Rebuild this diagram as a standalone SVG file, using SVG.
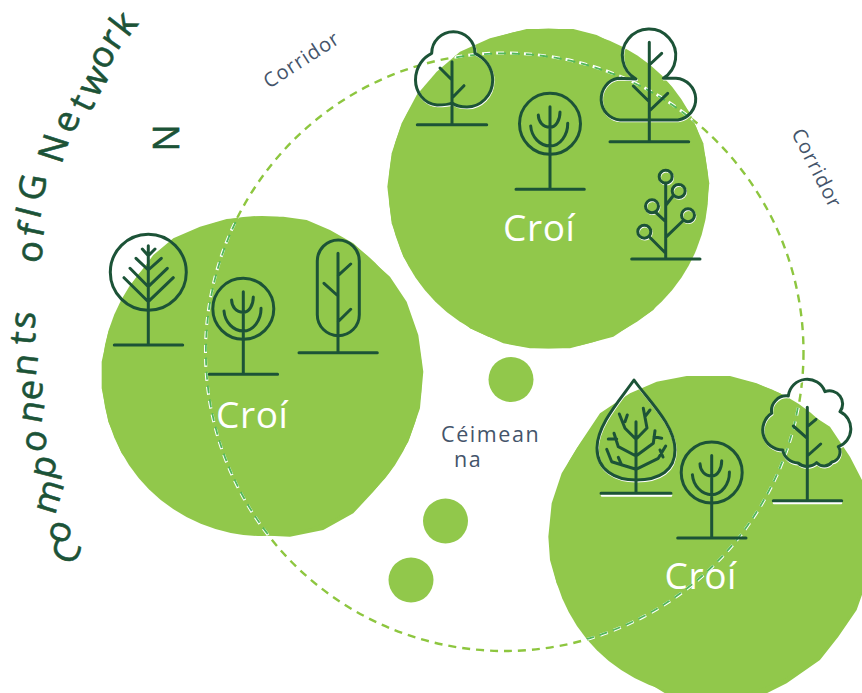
<svg xmlns="http://www.w3.org/2000/svg" xmlns:xlink="http://www.w3.org/1999/xlink" width="862" height="693" viewBox="0 0 862 693">
<style>
.blob{fill:#91c84b}
.t{fill:none;stroke:#1c5337;stroke-width:3;stroke-linecap:round;stroke-linejoin:round}
.s{fill:none;stroke:#fff;stroke-width:2.6;stroke-linecap:round;stroke-linejoin:round}
.title{font-family:"Open Sans",sans-serif;font-size:36px;fill:#1c5337;stroke:#1c5337;stroke-width:.6px;text-anchor:middle}
.croi{font-family:"Open Sans",sans-serif;font-size:37px;fill:#fff;letter-spacing:.6px}
.lab{font-family:"Open Sans",sans-serif;font-size:21.500px;fill:#44546a;letter-spacing:1.600px}
.cor{font-family:"Open Sans",sans-serif;font-size:20px;fill:#44546a;letter-spacing:1px}
.dash{fill:none;stroke-width:2.4;stroke-dasharray:8 6}
</style>
<defs>
<polygon id="p-top" transform="translate(380 20) scale(.3333)" points="240,95 330,55 440,27 580,27 650,45 720,80 800,130 870,195 930,280 970,370 988,490 975,600 940,700 880,790 820,870 700,950 570,985 450,985 370,970 270,925 190,860 120,790 70,710 35,610 22,500 35,400 65,310 110,225 170,155"/>
<polygon id="p-left" transform="translate(90 205) scale(.3333)" points="250,100 330,65 410,42 490,35 580,35 650,45 720,75 790,115 850,170 900,215 950,290 985,390 1000,500 990,610 955,710 900,800 850,860 790,925 700,975 600,995 490,990 400,975 310,935 220,880 140,800 95,745 55,650 35,550 35,470 55,380 90,300 130,230 190,150"/>
<polygon id="p-right" transform="translate(540 370) scale(.3333)" points="25,500 35,400 65,310 120,220 180,130 270,70 350,35 440,18 570,18 650,40 720,70 800,125 870,170 930,260 966,330 990,420 1000,520 985,620 950,720 895,800 840,870 740,940 650,985 400,985 310,930 225,880 150,810 95,730 50,640 30,570"/>
<circle id="c-top" cx="548.500" cy="188.500" r="160"/>
<circle id="c-left" cx="262" cy="376" r="160"/>
<circle id="c-right" cx="710" cy="537" r="160"/>
<clipPath id="blobs"><use xlink:href="#p-top"/><use xlink:href="#p-left"/><use xlink:href="#p-right"/><use xlink:href="#c-top"/><use xlink:href="#c-left"/><use xlink:href="#c-right"/></clipPath>
<g id="round"><circle cx="550" cy="123.800" r="30.500"/><path d="M516 189.300H584.300M550 106.700V189.300M538.300 115C538.500 122 543 127.300 550 127.300C556 127.300 560 120 560 112M530.700 126C531.500 137 540 146 550 146C560 146 568 135 567.700 123.300"/></g>
<path id="aOut" d="M431.700 53.300A21.500 21.500 0 1 1 475 53.300C485 58 492.700 68 492.700 80C492.700 96 480 107 467 107C461 107 456 106 452 103C448 105 442 105 437 105C424 104 415.500 92 415.500 80C415.500 66 424 57 431.700 53.300Z"/>
<path id="dOut" d="M636 79A26.700 26.700 0 1 1 663.300 78.300H676A21 21 0 0 1 678 120H620A20 21 0 0 1 618 78.300Z"/>
<path id="drOut" d="M634 380C620 400 597 425 597 448C597 470 615 480 636 480C660 480 675 470 675 450C675 425 648 400 634 380Z"/>
<path id="scOut" d="M788.300 396A19 19 0 0 1 825 391.700A13 13 0 0 1 840 411.700A19 19 0 0 1 838.300 446.700A10 10 0 0 1 832 462A10 10 0 0 1 816.700 462.700A14 14 0 0 1 798 463A16 16 0 0 1 782.700 450A20 20 0 0 1 771.700 413.300A15 15 0 0 1 788.300 396Z"/>
<g id="lollyC"><circle cx="665.700" cy="176.700" r="6.500"/><circle cx="678.700" cy="191" r="6.500"/><circle cx="652" cy="206.300" r="6.500"/><circle cx="688" cy="215.300" r="6.500"/><circle cx="644.300" cy="231.700" r="6.500"/></g>
</defs>
<g id="core-top" class="blob"><use xlink:href="#p-top"/><use xlink:href="#c-top"/></g>
<g id="core-left" class="blob"><use xlink:href="#p-left"/><use xlink:href="#c-left"/></g>
<g id="core-right" class="blob"><use xlink:href="#p-right"/><use xlink:href="#c-right"/></g>
<g id="steps"><circle class="blob" cx="511" cy="379.500" r="22.500"/><circle class="blob" cx="445.500" cy="521" r="22.500"/><circle class="blob" cx="411" cy="580" r="22.500"/></g>
<g id="labels">
<text class="croi" x="503" y="241">Croí</text>
<text class="croi" x="216" y="428">Croí</text>
<text class="croi" x="664.500" y="589">Croí</text>
<text class="lab"><tspan x="441" y="442">Céimean</tspan><tspan x="454" y="467">na</tspan></text>
<text class="cor" transform="translate(269 89) rotate(-33)">Corridor</text>
<text class="cor" transform="translate(791 133) rotate(63)">Corridor</text>
</g>
<g id="connectors">
<circle class="dash" cx="504.500" cy="352" r="299" stroke="#8dc63f"/>
<g clip-path="url(#blobs)"><circle class="dash" cx="504.500" cy="352" r="299" stroke="#fff" style="stroke-width:3"/><circle class="dash" cx="504.500" cy="352" r="298.600" stroke="#52b85a" style="stroke-width:1.800"/></g>
</g>
<g id="tree-shadows" class="s">
<use xlink:href="#aOut" x="0.600" y="1"/><use xlink:href="#dOut" x="0.600" y="1"/><use xlink:href="#lollyC" x="0.600" y="1"/><use xlink:href="#drOut" x="0.500" y="1.200"/><use xlink:href="#scOut" x="0.500" y="1.200"/>
<path d="M602 495.500H671M774 503H841"/>
</g>
<g id="tree-1" class="t"><use xlink:href="#aOut"/><path d="M417.300 124.700H486.700M452 61.700V124.700M440 68L452 80M464 85.700L452 98"/></g>
<g id="tree-2" class="t"><use xlink:href="#round"/></g>
<g id="tree-3" class="t"><use xlink:href="#dOut"/><path d="M610 141.700H688.700M649.300 42.300V141.700M661.700 53.300L649.300 65M633.300 86L649.300 101.700M667.700 93.300L649.300 111"/></g>
<g id="tree-4" class="t"><use xlink:href="#lollyC"/><path d="M631.700 259H700M665.700 183V259M673 196L666 205M655.700 212.300L665.700 221.700M682.700 221L665.700 237.300M649.300 236.700L665.700 253.300"/></g>
<g id="tree-5" class="t"><circle cx="148.300" cy="272.300" r="38"/><path d="M114.300 345H182.700M148.300 245.700V345M142.300 249L148.300 255.700L155 249M136 258.300L148.300 270L161.300 258.300M130 268.300L148.300 286.700L167.300 268.300M124 277.700L148.300 301.700L173.300 277.700"/></g>
<g id="tree-6" class="t"><use xlink:href="#round" x="-306.700" y="185"/></g>
<g id="tree-7" class="t"><rect x="317.300" y="240" width="42" height="95.700" rx="21"/><path d="M299 352.700H377.300M338 253.300V352.700M350.700 264L338 275.700M324 283.300L338 296M350.700 309.300L338 321.700"/></g>
<g id="tree-8" class="t"><use xlink:href="#drOut"/><path d="M601 493.300H671M636 421.700V493.300M619.300 414L625 428.300L636 439.300M627.300 415L625 421.700M643.300 408.300L647 428L636 439.300M650 410L645 416.700M614 433.300L618.300 446.700L636 456M608.300 439H616.700M655 430.700L653.300 443.300L636 456M661.700 438.300L654 436.700M606.700 449.300L611.700 461.700L636 469.300M618.300 457.300L621.700 465M665.700 446L658.300 458.300L636 469.300M660 450L663 457"/></g>
<g id="tree-9" class="t"><use xlink:href="#round" x="161.700" y="348.700"/></g>
<g id="tree-10" class="t"><use xlink:href="#scOut"/><path d="M773.300 500.700H841.700M807.300 407.300V500.700M816 419.300L807.300 426.700M793.300 426L807.300 438.300M820.700 444L807.300 456"/></g>
<g id="title">
<text class="title" transform="translate(66 551) rotate(-68) translate(0 13)">C</text>
<text class="title" transform="translate(60 532) rotate(-71) translate(0 10)">o</text>
<text class="title" transform="translate(50 497) rotate(-73) translate(0 10)">m</text>
<text class="title" transform="translate(45 467) rotate(-76) translate(0 10)">p</text>
<text class="title" transform="translate(36 441) rotate(-78) translate(0 10)">o</text>
<text class="title" transform="translate(33 412) rotate(-80) translate(0 10)">n</text>
<text class="title" transform="translate(32 390) rotate(-82) translate(0 10)">e</text>
<text class="title" transform="translate(27 365) rotate(-83) translate(0 10)">n</text>
<text class="title" transform="translate(23 338) rotate(-84) translate(0 12)">t</text>
<text class="title" transform="translate(25 320) rotate(-85) translate(0 10)">s</text>
<text class="title" transform="translate(32 252) rotate(-82) translate(0 10)">o</text>
<text class="title" transform="translate(32 230) rotate(-78) translate(0 12)">f</text>
<text class="title" transform="translate(28 212) rotate(-76) translate(0 13)">I</text>
<text class="title" transform="translate(32 187) rotate(-80) translate(0 13)">G</text>
<text class="title" transform="translate(53 148) rotate(-72) translate(0 13)">N</text>
<text class="title" transform="translate(68 122) rotate(-68) translate(0 10)">e</text>
<text class="title" transform="translate(82 103) rotate(-64) translate(0 12)">t</text>
<text class="title" transform="translate(95 82) rotate(-60) translate(0 10)">w</text>
<text class="title" transform="translate(103 57) rotate(-57) translate(0 10)">o</text>
<text class="title" transform="translate(113 40) rotate(-55) translate(0 10)">r</text>
<text class="title" transform="translate(123 23) rotate(-52) translate(0 13)">k</text>
<text class="title" transform="translate(166 138) rotate(-90) translate(0 13)">N</text>
</g>
</svg>
